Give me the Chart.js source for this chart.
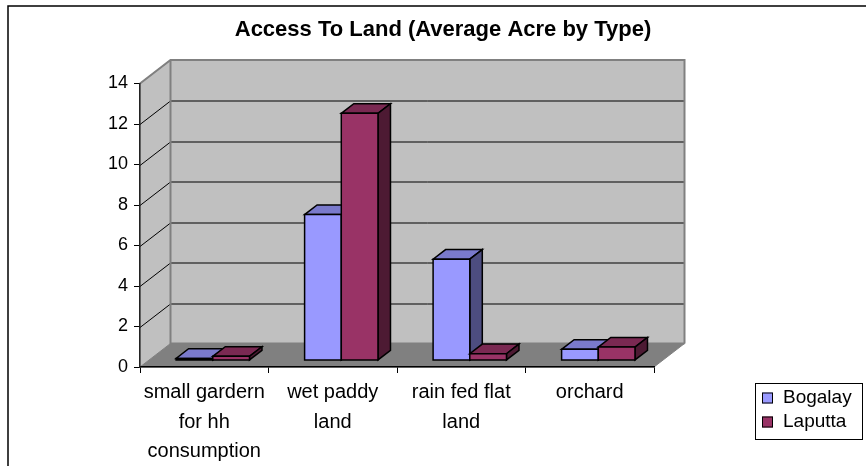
<!DOCTYPE html>
<html>
<head>
<meta charset="utf-8">
<script src="https://cdn.jsdelivr.net/npm/chart.js@4.4.0/dist/chart.umd.min.js"></script>
<style>
html, body { margin: 0; padding: 0; background: #fff; }
canvas { display: block; }
</style>
</head>
<body>
<canvas id="myChart" width="866" height="466"></canvas>
<script>
const categories = [
    ['small gardern', 'for hh', 'consumption'],
    ['wet paddy', 'land'],
    ['rain fed flat', 'land'],
    'orchard'
];
const seriesNames = ['Bogalay', 'Laputta'];
const bogalay = [0.1, 7.2, 5.0, 0.55];
const laputta = [0.2, 12.2, 0.33, 0.66];
const yMin = 0;
const yMax = 14;
const yStep = 2;

const frontColors = ['#9999ff', '#993366'];
const topColors = ['#7a7acc', '#7a2952'];
const sideColors = ['#4d4d80', '#4d1a33'];

// depth of the 3d box, and where the bars sit inside it
const DX = 30.5, DY = -23.5;
const Z0 = 0.28, Z1 = 0.69;

const font = '"Liberation Sans", Arial, sans-serif';

function poly(ctx, pts, fill) {
    ctx.beginPath();
    ctx.moveTo(pts[0][0], pts[0][1]);
    for (let i = 1; i < pts.length; i++) ctx.lineTo(pts[i][0], pts[i][1]);
    ctx.closePath();
    if (fill) {
        ctx.fillStyle = fill;
        ctx.fill();
    }
    ctx.stroke();
}

const walls = {
    id: 'walls',
    beforeDraw(chart) {
        const ctx = chart.ctx;
        const a = chart.chartArea;
        const ys = chart.scales.y;
        const y0 = ys.getPixelForValue(yMin);
        const yTop = ys.getPixelForValue(yMax);
        ctx.save();
        ctx.fillStyle = '#fff';
        ctx.fillRect(0, 0, chart.width, chart.height);

        // outer frame (cut off at right and bottom)
        ctx.strokeStyle = '#000';
        ctx.lineWidth = 1.5;
        ctx.beginPath();
        ctx.moveTo(8, chart.height);
        ctx.lineTo(8, 6);
        ctx.lineTo(chart.width, 6);
        ctx.stroke();

        ctx.strokeStyle = '#808080';
        ctx.lineWidth = 1;
        // floor
        poly(ctx, [[a.left, y0], [a.left + DX, y0 + DY], [a.right + DX, y0 + DY], [a.right, y0]], '#808080');
        // side wall
        poly(ctx, [[a.left, y0], [a.left, yTop], [a.left + DX, yTop + DY], [a.left + DX, y0 + DY]], '#c0c0c0');
        // back wall
        ctx.fillStyle = '#c0c0c0';
        ctx.fillRect(a.left + DX, yTop + DY, a.right - a.left, y0 - yTop);

        // grid lines on the walls
        ctx.strokeStyle = '#000';
        ctx.lineWidth = 1;
        ys.ticks.forEach(t => {
            if (t.value <= yMin || t.value >= yMax) return;
            const py = Math.round(ys.getPixelForValue(t.value)) + 0.5;
            ctx.beginPath();
            ctx.moveTo(a.left, py);
            ctx.lineTo(a.left + DX, py + DY);
            ctx.lineTo(a.right + DX, py + DY);
            ctx.stroke();
        });

        // wall edges
        ctx.strokeStyle = '#808080';
        ctx.lineWidth = 2;
        ctx.beginPath();
        ctx.moveTo(a.left, yTop);
        ctx.lineTo(a.left + DX, yTop + DY);
        ctx.lineTo(a.right + DX, yTop + DY);
        ctx.lineTo(a.right + DX, y0 + DY);
        ctx.moveTo(a.left + DX, yTop + DY);
        ctx.lineTo(a.left + DX, y0 + DY);
        ctx.lineTo(a.right + DX, y0 + DY);
        ctx.stroke();
        ctx.restore();
    }
};

const boxes = {
    id: 'boxes',
    beforeDatasetsDraw(chart) {
        const ctx = chart.ctx;
        ctx.save();
        ctx.strokeStyle = '#000';
        ctx.lineWidth = 1.5;
        ctx.lineJoin = 'miter';
        for (let i = 0; i < chart.data.labels.length; i++) {
            chart.data.datasets.forEach((ds, d) => {
                const bar = chart.getDatasetMeta(d).data[i];
                const { x, y, base, width } = bar.getProps(['x', 'y', 'base', 'width'], true);
                const l = x - width / 2, r = x + width / 2;
                const p = (px, py, z) => [px + z * DX, py + z * DY];
                const fTL = p(l, y, Z0), fTR = p(r, y, Z0), fBR = p(r, base, Z0), fBL = p(l, base, Z0);
                const bTL = p(l, y, Z1), bTR = p(r, y, Z1), bBR = p(r, base, Z1);
                poly(ctx, [fTL, fTR, bTR, bTL], topColors[d]);
                poly(ctx, [fTR, bTR, bBR, fBR], sideColors[d]);
                poly(ctx, [fTL, fTR, fBR, fBL], frontColors[d]);
            });
        }
        ctx.restore();
        return false;
    }
};

const legendBox = {
    id: 'legendBox',
    afterDraw(chart) {
        const ctx = chart.ctx;
        const bx = 755, by = 383, bw = 107, bh = 56;
        ctx.save();
        ctx.fillStyle = '#fff';
        ctx.fillRect(bx, by, bw, bh);
        ctx.strokeStyle = '#000';
        ctx.lineWidth = 1;
        ctx.strokeRect(bx + 0.5, by + 0.5, bw, bh);
        ctx.font = '19px ' + font;
        ctx.textBaseline = 'middle';
        chart.data.datasets.forEach((ds, d) => {
            const cy = by + 15 + d * 24;
            ctx.fillStyle = frontColors[d];
            ctx.fillRect(762, cy - 5.5, 11, 11);
            ctx.strokeRect(762.5, cy - 5, 10, 10);
            ctx.fillStyle = '#000';
            ctx.fillText(ds.label, 783, cy);
        });
        ctx.restore();
    }
};

new Chart(document.getElementById('myChart'), {
    type: 'bar',
    data: {
        labels: categories,
        datasets: [
            { label: seriesNames[0], data: bogalay, backgroundColor: frontColors[0], borderWidth: 0 },
            { label: seriesNames[1], data: laputta, backgroundColor: frontColors[1], borderWidth: 0 }
        ]
    },
    options: {
        responsive: false,
        animation: false,
        events: [],
        categoryPercentage: 0.571,
        barPercentage: 1,
        layout: { padding: { left: 20, right: 0, top: 0, bottom: 0 } },
        plugins: {
            legend: { display: false },
            tooltip: { enabled: false },
            title: {
                display: true,
                text: 'Access To Land (Average Acre by Type)',
                color: '#000',
                font: { family: font, size: 22, weight: 'bold', lineHeight: 1.2 },
                padding: { top: 16.8, bottom: 40.3 }
            }
        },
        scales: {
            x: {
                grid: { display: true, drawOnChartArea: false, drawTicks: true, tickLength: 6, color: '#000', offset: true },
                border: { display: true, color: '#000', width: 1.5 },
                ticks: {
                    color: '#000',
                    font: { family: font, size: 20, lineHeight: 1.475 },
                    padding: 5,
                    maxRotation: 0,
                    minRotation: 0,
                    autoSkip: false
                },
                afterFit(s) { s.height = 99; }
            },
            y: {
                min: yMin,
                max: yMax,
                grid: { drawOnChartArea: false, drawTicks: true, tickLength: 6, color: '#000' },
                border: { display: true, color: '#222', width: 1.5 },
                ticks: { stepSize: yStep, color: '#000', font: { family: font, size: 18 }, padding: 6 },
                afterFit(s) { s.width = 120; }
            },
            // empty axis that keeps room on the right for the back wall and legend
            side: {
                position: 'right',
                grid: { display: false },
                border: { display: false },
                ticks: { display: false },
                afterFit(s) { s.width = 212; }
            }
        }
    },
    plugins: [walls, boxes, legendBox]
});
</script>
</body>
</html>
